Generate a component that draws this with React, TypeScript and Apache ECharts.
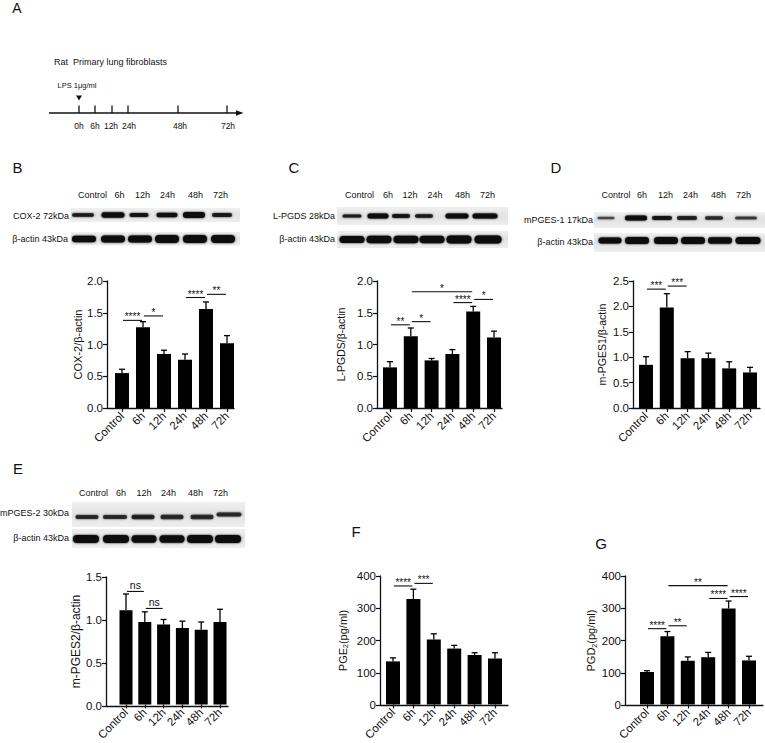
import React, { useEffect, useRef } from "react";
import * as echarts from "echarts";

const FONT = 'Arial, "Liberation Sans", Helvetica, sans-serif';

// ---------- data ----------
const categories = ["Control", "6h", "12h", "24h", "48h", "72h"];

const cox2Mean = [0.55, 1.27, 0.85, 0.76, 1.56, 1.02];
const cox2Err = [0.61, 1.36, 0.91, 0.85, 1.67, 1.14];
const cox2Sig: [number, number, number, string][] = [
  [0, 1, 1.38, "****"], [1, 2, 1.45, "*"], [3, 4, 1.74, "****"], [4, 5, 1.79, "**"],
];

const lpgdsMean = [0.64, 1.13, 0.75, 0.85, 1.52, 1.11];
const lpgdsErr = [0.73, 1.26, 0.78, 0.92, 1.6, 1.21];
const lpgdsSig: [number, number, number, string][] = [
  [0, 1, 1.31, "**"], [1, 2, 1.36, "*"], [1, 4, 1.83, "*"], [3, 4, 1.66, "****"], [4, 5, 1.71, "*"],
];

const mpges1Mean = [0.85, 1.98, 0.98, 0.98, 0.78, 0.7];
const mpges1Err = [1.01, 2.25, 1.11, 1.08, 0.91, 0.8];
const mpges1Sig: [number, number, number, string][] = [
  [0, 1, 2.34, "***"], [1, 2, 2.4, "***"],
];

const mpges2Mean = [1.11, 0.97, 0.94, 0.9, 0.88, 0.97];
const mpges2Err = [1.3, 1.09, 1.0, 0.98, 0.97, 1.12];
const mpges2Sig: [number, number, number, string][] = [
  [0, 1, 1.33, "ns"], [1, 2, 1.13, "ns"],
];

const pge2Mean = [134, 328, 202, 174, 154, 143];
const pge2Err = [145, 359, 220, 184, 161, 161];
const pge2Sig: [number, number, number, string][] = [
  [0, 1, 369, "****"], [1, 2, 377, "***"],
];

const pgd2Mean = [101, 212, 136, 147, 299, 137];
const pgd2Err = [105, 227, 148, 162, 322, 150];
const pgd2Sig: [number, number, number, string][] = [
  [0, 1, 236, "****"], [1, 2, 245, "**"], [1, 4, 370, "**"], [3, 4, 330, "****"], [4, 5, 336, "****"],
];

const timelineLabels = ["0h", "6h", "12h", "24h", "48h", "72h"];

// ---------- layout ----------
const panels = [
  { mean: cox2Mean, err: cox2Err, sig: cox2Sig, max: 2, interval: 0.5, dec: 1, name: "COX-2/β-actin", nameSize: 11, nameGap: 24,
    axisX: 107, top: 281, bottom: 408, c0: 122, step: 21, xEnd: 234, barW: 14 },
  { mean: lpgdsMean, err: lpgdsErr, sig: lpgdsSig, max: 2, interval: 0.5, dec: 1, name: "L-PGDS/β-actin", nameSize: 10.5, nameGap: 31,
    axisX: 377, top: 281, bottom: 408, c0: 390, step: 20.8, xEnd: 502, barW: 14 },
  { mean: mpges1Mean, err: mpges1Err, sig: mpges1Sig, max: 2.5, interval: 0.5, dec: 1, name: "m-PGES1/β-actin", nameSize: 10.5, nameGap: 26,
    axisX: 633, top: 281, bottom: 408, c0: 646, step: 20.8, xEnd: 760, barW: 14 },
  { mean: mpges2Mean, err: mpges2Err, sig: mpges2Sig, max: 1.5, interval: 0.5, dec: 1, name: "m-PGES2/β-actin", nameSize: 12, nameGap: 23,
    axisX: 106, top: 577, bottom: 706, c0: 126, step: 18.8, xEnd: 228, barW: 13 },
  { mean: pge2Mean, err: pge2Err, sig: pge2Sig, max: 400, interval: 100, dec: 0, name: "{a|PGE}{b|2}{a|(pg/ml)}", nameSize: 11, nameGap: 31,
    axisX: 380, top: 576, bottom: 705, c0: 393, step: 20.4, xEnd: 508, barW: 14 },
  { mean: pgd2Mean, err: pgd2Err, sig: pgd2Sig, max: 400, interval: 100, dec: 0, name: "{a|PGD}{b|2}{a|(pg/ml)}", nameSize: 11, nameGap: 22,
    axisX: 625, top: 576, bottom: 705, c0: 647, step: 20.4, xEnd: 763, barW: 14 },
];

type BandSpec = [number, number, number, number];
const blots = [
  { // B
    header: { y: 195, xs: [92.5, 119.5, 142.5, 167.5, 195.5, 220.5] },
    rows: [
      { label: "COX-2 72kDa", lx: 69, ly: 216, box: [71, 208, 169, 14], y: 215,
        bands: [[83, 22, 3.5, 0.85], [113, 23, 5.5, 1], [139, 19, 4, 0.9], [167, 21, 4.5, 0.95], [194, 22, 6, 1], [222, 20, 4, 0.85]] as BandSpec[] },
      { label: "β-actin 43kDa", lx: 68, ly: 239, box: [71, 232, 169, 13.5], y: 239,
        bands: [[84, 24, 6.5, 1], [113, 24, 7, 1], [140, 24, 7, 1], [167, 24, 8, 1], [195, 24, 8, 1], [223, 24, 8, 1]] as BandSpec[] },
    ],
  },
  { // C
    header: { y: 195, xs: [359.5, 388, 410, 435, 462.5, 487.5] },
    rows: [
      { label: "L-PGDS 28kDa", lx: 335, ly: 216, box: [337, 207, 171, 18], y: 216,
        bands: [[352, 19, 3, 0.85], [378, 21, 5, 1], [401, 18, 4, 0.9], [424, 18, 3.5, 0.85], [457, 23, 5, 1], [485, 25, 5, 1]] as BandSpec[] },
      { label: "β-actin 43kDa", lx: 335, ly: 239, box: [337, 231, 171, 17], y: 239.5,
        bands: [[352, 25, 7, 1], [379, 25, 7.5, 1], [406, 25, 7.5, 1], [432, 25, 7.5, 1], [459, 25, 8, 1], [488, 27, 8, 1]] as BandSpec[] },
    ],
  },
  { // D
    header: { y: 195, xs: [616, 642, 665.5, 690.5, 718.5, 743.5] },
    rows: [
      { label: "mPGES-1 17kDa", lx: 593, ly: 220, box: [594, 212, 171, 16], y: 218,
        bands: [[606, 17, 2.5, 0.55], [636, 22, 5, 1], [662, 20, 4, 0.9], [687, 20, 4, 0.8], [714, 18, 3.5, 0.75], [746, 22, 3, 0.6]] as BandSpec[] },
      { label: "β-actin 43kDa", lx: 593, ly: 242, box: [594, 233, 171, 19], y: 240.5,
        bands: [[610, 23, 6, 1], [637, 24, 7, 1], [666, 24, 7, 1], [693, 24, 7, 1], [720, 24, 6.5, 1], [748, 25, 7, 1]] as BandSpec[] },
    ],
  },
  { // E
    header: { y: 493, xs: [93.5, 121, 144, 168.5, 195.5, 220.5] },
    rows: [
      { label: "mPGES-2 30kDa", lx: 69, ly: 513, box: [72, 502, 173, 25], y: 517,
        bands: [[87, 23, 4, 0.75], [115, 24, 4, 0.75], [143, 23, 4.5, 0.8], [172, 23, 4.5, 0.75], [202, 23, 4.5, 0.75], [229, 25, 4, 0.75]] as BandSpec[] },
      { label: "β-actin 43kDa", lx: 69, ly: 538, box: [72, 529, 173, 19], y: 539,
        bands: [[86, 26, 8, 1], [116, 26, 8, 1], [144, 25, 7.5, 1], [172, 25, 7.5, 1], [200, 26, 8, 1], [228, 26, 8, 1]] as BandSpec[] },
    ],
  },
];

const letters: [string, number, number, number][] = [
  ["A", 17, 8, 14], ["B", 17.5, 167.5, 15], ["C", 294, 167.5, 15], ["D", 556, 167.5, 15],
  ["E", 18, 468, 15], ["F", 356, 531, 15], ["G", 601, 543, 15],
];

const timelineX = [79, 95, 112, 128, 178, 227];
const timelineLabelX = [79, 95, 111, 129, 180, 228];

function txt(text: string, x: number, y: number, size: number, align = "center", vAlign = "middle") {
  return {
    type: "text",
    silent: true,
    style: { text, x, y, fill: "#111", fontSize: size, fontFamily: FONT, align, verticalAlign: vAlign },
  };
}

function buildGraphics() {
  const g: any[] = [];
  letters.forEach(([t, x, y, s]) => g.push(txt(t, x, y, s)));

  // Panel A schematic
  g.push(txt("Rat  Primary lung fibroblasts", 54, 62, 9, "left"));
  g.push(txt("LPS 1μg/ml", 77, 85, 7.5));
  g.push({ type: "polygon", shape: { points: [[76, 95.5], [82, 95.5], [79, 100.5]] }, style: { fill: "#111" } });
  g.push({ type: "line", shape: { x1: 49, y1: 113, x2: 238, y2: 113 }, style: { stroke: "#111", lineWidth: 1.3 } });
  g.push({ type: "polygon", shape: { points: [[236, 110.3], [243.5, 113], [236, 115.7]] }, style: { fill: "#111" } });
  timelineX.forEach((x, i) => {
    g.push({ type: "line", shape: { x1: x, y1: 105.5, x2: x, y2: 113 }, style: { stroke: "#111", lineWidth: 1.3 } });
    g.push(txt(timelineLabels[i], timelineLabelX[i], 126, 8.5));
  });

  // Western blots
  blots.forEach((b) => {
    b.header.xs.forEach((x, i) => g.push(txt(categories[i], x, b.header.y, 9)));
    b.rows.forEach((r) => {
      g.push(txt(r.label, r.lx, r.ly, 9, "right"));
      const [bx, by, bw, bh] = r.box;
      g.push({
        type: "rect", silent: true,
        shape: { x: bx, y: by, width: bw, height: bh },
        style: {
          fill: new echarts.graphic.LinearGradient(0, 0, 0, 1, [
            { offset: 0, color: "#f0f0f0" }, { offset: 0.5, color: "#e2e2e2" }, { offset: 1, color: "#efefef" },
          ]),
        },
      });
      r.bands.forEach(([cx, w, h, op], i) => {
        const yy = b === blots[3] && r === b.rows[0] && i === 5 ? r.y - 2.5 : r.y;
        g.push({
          type: "rect", silent: true,
          shape: { x: cx - w / 2, y: yy - h / 2, width: w, height: h, r: h / 2 },
          style: { fill: "#0a0a0a", opacity: op, shadowBlur: 2.5, shadowColor: "rgba(0,0,0,0.85)" },
        });
      });
    });
  });
  return g;
}

function buildOption() {
  const grid: any[] = [];
  const xAxis: any[] = [];
  const yAxis: any[] = [];
  const series: any[] = [];

  panels.forEach((p, i) => {
    const height = p.bottom - p.top;
    // axis frame grid
    grid.push({ left: p.axisX, top: p.top, width: p.xEnd - p.axisX, height });
    // bar grid
    grid.push({ left: p.c0 - p.step / 2, top: p.top, width: p.step * 6, height });
    const ga = i * 2;
    const gb = i * 2 + 1;

    xAxis.push({
      gridIndex: ga, type: "value", min: 0, max: 1, position: "bottom",
      axisLine: { show: true, onZero: false, lineStyle: { color: "#111", width: 1.3 } },
      axisTick: { show: false }, axisLabel: { show: false }, splitLine: { show: false },
    });
    xAxis.push({
      gridIndex: gb, type: "category", data: categories, position: "bottom",
      axisLine: { show: false },
      axisTick: { show: true, alignWithLabel: true, length: 4, lineStyle: { color: "#111", width: 1.2 } },
      axisLabel: { rotate: 45, margin: 6, fontSize: 11.5, fontFamily: FONT, color: "#111", interval: 0 },
      splitLine: { show: false },
    });

    const isRich = p.name.indexOf("{a|") === 0;
    yAxis.push({
      gridIndex: ga, type: "value", min: 0, max: p.max, interval: p.interval,
      axisLine: { show: true, lineStyle: { color: "#111", width: 1.3 } },
      axisTick: { show: true, length: 4, lineStyle: { color: "#111", width: 1.2 } },
      axisLabel: {
        margin: 4, fontSize: 11.5, fontFamily: FONT, color: "#111",
        formatter: (v: number) => v.toFixed(p.dec),
      },
      splitLine: { show: false },
      name: p.name, nameLocation: "middle", nameRotate: 90, nameGap: p.nameGap,
      nameTextStyle: isRich
        ? {
            fontFamily: FONT, color: "#111",
            rich: {
              a: { fontSize: p.nameSize, fontFamily: FONT, color: "#111", lineHeight: 13 },
              b: { fontSize: 7, fontFamily: FONT, color: "#111", lineHeight: 6, verticalAlign: "bottom" },
            },
          }
        : { fontSize: p.nameSize, fontFamily: FONT, color: "#111" },
    });
    yAxis.push({ gridIndex: gb, type: "value", min: 0, max: p.max, show: false });

    const xi = i * 2 + 1;
    const yi = i * 2 + 1;
    series.push({
      type: "bar", xAxisIndex: xi, yAxisIndex: yi, data: p.mean, barWidth: p.barW,
      itemStyle: { color: "#000" }, silent: true,
    });
    series.push({
      type: "custom", xAxisIndex: xi, yAxisIndex: yi, silent: true, z: 5,
      data: p.mean.map((m, k) => [k, m, p.err[k]]),
      renderItem: (_params: any, api: any) => {
        const x = api.value(0);
        const p0 = api.coord([x, api.value(1)]);
        const p1 = api.coord([x, api.value(2)]);
        const st = { stroke: "#000", lineWidth: 1.3 };
        return {
          type: "group",
          children: [
            { type: "line", shape: { x1: p0[0], y1: p0[1], x2: p1[0], y2: p1[1] }, style: st },
            { type: "line", shape: { x1: p1[0] - 3, y1: p1[1], x2: p1[0] + 3, y2: p1[1] }, style: st },
          ],
        };
      },
    });
    series.push({
      type: "custom", xAxisIndex: xi, yAxisIndex: yi, silent: true, z: 5,
      data: p.sig.map((s) => [s[0], s[2], s[1]]),
      renderItem: (params: any, api: any) => {
        const s = p.sig[params.dataIndex];
        const a = api.coord([s[0], s[2]]);
        const b = api.coord([s[1], s[2]]);
        const isNs = s[3] === "ns";
        return {
          type: "group",
          children: [
            { type: "line", shape: { x1: a[0] + 1, y1: a[1], x2: b[0] - 1, y2: b[1] }, style: { stroke: "#111", lineWidth: 1.1 } },
            {
              type: "text",
              style: {
                text: s[3], x: (a[0] + b[0]) / 2, y: isNs ? a[1] - 1 : a[1] + 1.5,
                fill: "#111", fontSize: isNs ? 10.5 : 10, fontFamily: FONT, align: "center", verticalAlign: "bottom",
              },
            },
          ],
        };
      },
    });
  });

  return {
    animation: false,
    backgroundColor: "#fff",
    textStyle: { fontFamily: FONT },
    grid, xAxis, yAxis, series,
    graphic: buildGraphics(),
  };
}

export default function App() {
  const ref = useRef<HTMLDivElement>(null);
  useEffect(() => {
    if (!ref.current) return;
    const chart = echarts.init(ref.current, undefined, { renderer: "svg" });
    chart.setOption(buildOption() as any);
    return () => chart.dispose();
  }, []);
  return (
    <div
      ref={ref}
      style={{ position: "fixed", left: 0, top: 0, width: 765, height: 743, background: "#fff" }}
    />
  );
}
